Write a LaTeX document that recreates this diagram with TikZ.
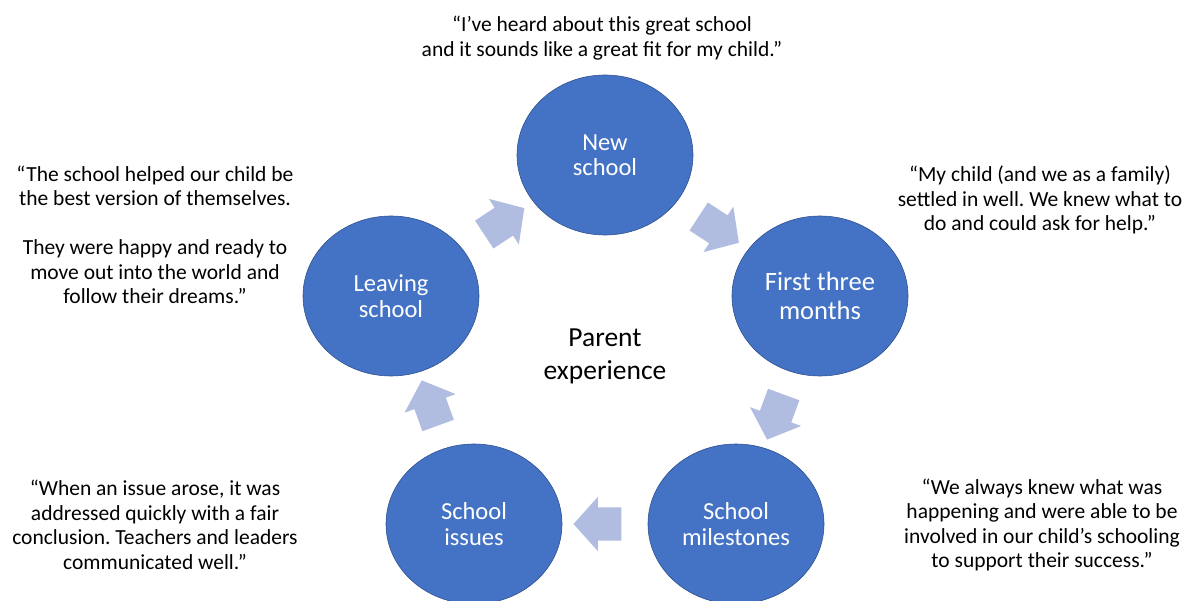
\documentclass[tikz,border=0pt]{standalone}
\usepackage{fontspec}
\setmainfont{Carlito}
\usepackage{tikz}
\usetikzlibrary{shapes,arrows,positioning,calc}
\definecolor{stageblue}{RGB}{68,114,196}
\definecolor{stageedge}{RGB}{47,82,143}
\definecolor{cyclearrow}{RGB}{176,188,224}
\frenchspacing

\begin{document}
\begin{tikzpicture}[x=1pt,y=-1pt,
    stage/.style={ellipse, draw=stageedge, line width=0.6pt, fill=stageblue, text=white,
        minimum width=176pt, minimum height=160pt, inner sep=0pt, align=center,
        font=\fontsize{24.5}{25.5}\selectfont},
    quote/.style={align=center, font=\fontsize{21.5}{24.5}\selectfont},
    cyc/.style={single arrow, fill=cyclearrow, draw=none, inner sep=0pt, inner ysep=16.5pt,
        minimum width=33pt, minimum height=48pt, single arrow head extend=10.5pt,
        single arrow tip angle=96, sloped, allow upside down}]
    \useasboundingbox (0,0) rectangle (1195,601);

    \node [stage] (new) at (605,155) {New\\school};
    \node [stage, font=\fontsize{26.5}{29}\selectfont] (first) at (820,296) {First three\\months};
    \node [stage] (milestones) at (736,524) {School\\milestones};
    \node [stage] (issues) at (474,524) {School\\issues};
    \node [stage] (leaving) at (391,296) {Leaving\\school};

    \node [font=\fontsize{27.5}{33}\selectfont, align=center] (parent) at (605,356) {Parent\\experience};

    \path (new) -- node [cyc] {} (first);
    \path (first) -- node [cyc] {} (milestones);
    \path (milestones) -- node [cyc] {} (issues);
    \path (issues) -- node [cyc] {} (leaving);
    \path (leaving) -- node [cyc] {} (new);

    \node [quote] (q-new) at (602,38) {“I’ve heard about this great school\\and it sounds like a great fit for my child.”};
    \node [quote] (q-first) at (1040,200) {“My child (and we as a family)\\settled in well. We knew what to\\do and could ask for help.”};
    \node [quote] (q-milestones) at (1042,525) {“We always knew what was\\happening and were able to be\\involved in our child’s schooling\\to support their success.”};
    \node [quote] (q-issues) at (155,525) {“When an issue arose, it was\\addressed quickly with a fair\\conclusion. Teachers and leaders\\communicated well.”};
    \node [quote] (q-leaving) at (155,235) {“The school helped our child be\\the best version of themselves.\\[24.5pt]They were happy and ready to\\move out into the world and\\follow their dreams.”};
\end{tikzpicture}
\end{document}
